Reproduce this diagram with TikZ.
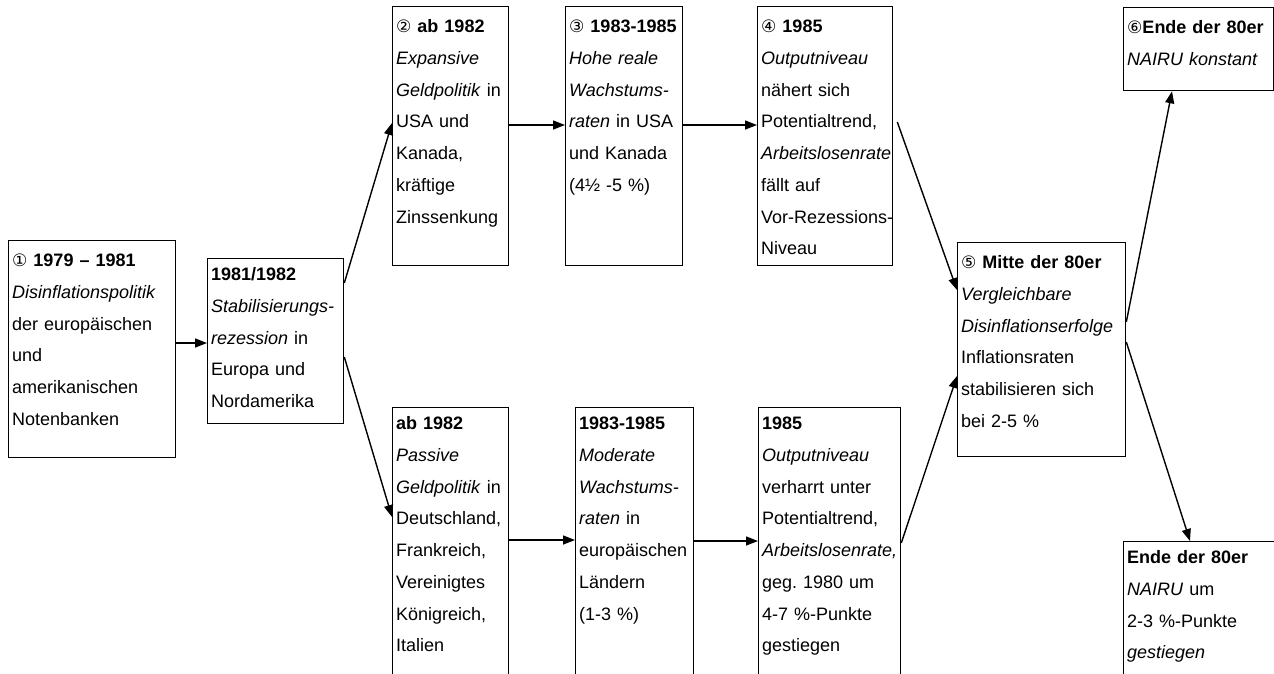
\documentclass[tikz,border=0pt]{standalone}
\usepackage{fontspec}
\setmainfont{Liberation Sans}
\newfontfamily\circfont{DejaVu Sans}[Scale=0.95]
\usepackage{tikz}
\usetikzlibrary{arrows.meta}
\frenchspacing
\newcommand\numc[1]{{\circfont #1}}
\newcommand\stagefont{\fontsize{18}{31.75}\selectfont\hyphenpenalty=10000\exhyphenpenalty=10000}
\tikzset{
  stagebox/.style={draw, line width=1.3pt, anchor=north west, align=left,
                   inner xsep=3.5pt, inner ysep=0pt, font=\stagefont},
  numbered/.style={text height=26pt},
  plain/.style={text height=22pt},
  flow/.style={-{Triangle[length=12pt, width=9pt]}, line width=1.4pt},
}

\begin{document}
\begin{tikzpicture}[x=1pt, y=-1pt]
  \useasboundingbox (0,0) rectangle (1274,673);

  % --- start and recession ------------------------------------------
  \node[stagebox, numbered, text width=160pt, text depth=191pt] (s1) at (8,240)
        {\numc{①} \textbf{1979 – 1981}\\\textit{Disinflationspolitik}\\der europäischen\\und\\amerikanischen\\Notenbanken};
  \node[stagebox, plain, text width=129pt, text depth=143pt] (s2) at (207,258)
        {\textbf{1981/1982}\\\textit{Stabilisierungs-}\\\textit{rezession} in\\Europa und\\Nordamerika};

  % --- upper path: USA and Kanada -----------------------------------
  \node[stagebox, numbered, text width=109pt, text depth=233pt] (a2) at (392,6)
        {\numc{②} \textbf{ab 1982}\\\textit{Expansive}\\\textit{Geldpolitik} in\\USA und\\Kanada,\\kräftige\\Zinssenkung};
  \node[stagebox, numbered, text width=110pt, text depth=233pt] (a3) at (565,6)
        {\numc{③} \textbf{1983-1985}\\\textit{Hohe reale}\\\textit{Wachstums-}\\\textit{raten} in USA\\und Kanada\\(4½ -5 \%)};
  \node[stagebox, numbered, text width=128pt, text depth=233pt] (a4) at (757,6)
        {\numc{④} \textbf{1985}\\\textit{Outputniveau}\\nähert sich\\Potentialtrend,\\\textit{Arbeitslosenrate}\\fällt auf\\Vor-Rezessions-\\Niveau};

  % --- lower path: Europa -------------------------------------------
  \node[stagebox, plain, text width=109pt, text depth=261pt] (b2) at (392,407)
        {\textbf{ab 1982}\\\textit{Passive}\\\textit{Geldpolitik} in\\Deutschland,\\Frankreich,\\Vereinigtes\\Königreich,\\Italien};
  \node[stagebox, plain, text width=111pt, text depth=261pt] (b3) at (575,407)
        {\textbf{1983-1985}\\\textit{Moderate}\\\textit{Wachstums-}\\\textit{raten} in\\europäischen\\Ländern\\(1-3 \%)};
  \node[stagebox, plain, text width=135pt, text depth=261pt] (b4) at (758,407)
        {\textbf{1985}\\\textit{Outputniveau}\\verharrt unter\\Potentialtrend,\\\textit{Arbeitslosenrate,}\\geg. 1980 um\\4-7 \%-Punkte\\gestiegen};

  % --- outcome and end of the decade --------------------------------
  \node[stagebox, numbered, text width=161pt, text depth=188pt] (s5) at (957,242)
        {\numc{⑤} \textbf{Mitte der 80er}\\\textit{Vergleichbare}\\\textit{Disinflationserfolge}\\Inflationsraten\\stabilisieren sich\\bei 2-5 \%};
  \node[stagebox, numbered, text width=143pt, text depth=57pt] (a6) at (1123,7)
        {\numc{⑥}\textbf{Ende der 80er}\\\textit{NAIRU konstant}};
  \node[stagebox, plain, text width=150pt, text depth=127pt] (b6) at (1123,541)
        {\textbf{Ende der 80er}\\\textit{NAIRU} um\\2-3 \%-Punkte\\\textit{gestiegen}};

  % --- connectors ---------------------------------------------------
  \draw[flow] ([yshift=-103pt]s1.north east) -- ([yshift=-85pt]s2.north west);
  \draw[flow] ([yshift=-25pt]s2.north east) -- ([yshift=-117pt]a2.north west);
  \draw[flow] ([yshift=-99pt]s2.north east) -- ([yshift=-110pt]b2.north west);
  \draw[flow] ([yshift=-119pt]a2.north east) -- ([yshift=-119pt]a3.north west);
  \draw[flow] ([yshift=-119pt]a3.north east) -- ([yshift=-119pt]a4.north west);
  \draw[flow] ([xshift=4pt, yshift=-116pt]a4.north east) -- ([yshift=-48pt]s5.north west);
  \draw[flow] ([yshift=-133pt]b2.north east) -- ([yshift=-133pt]b3.north west);
  \draw[flow] ([yshift=-134pt]b3.north east) -- ([yshift=-134pt]b4.north west);
  \draw[flow] ([yshift=-136pt]b4.north east) -- ([yshift=-134pt]s5.north west);
  \draw[flow] ([yshift=-80pt]s5.north east) -- ([xshift=49pt]a6.south west);
  \draw[flow] ([yshift=-100pt]s5.north east) -- ([xshift=67pt]b6.north west);

\end{tikzpicture}
\end{document}
